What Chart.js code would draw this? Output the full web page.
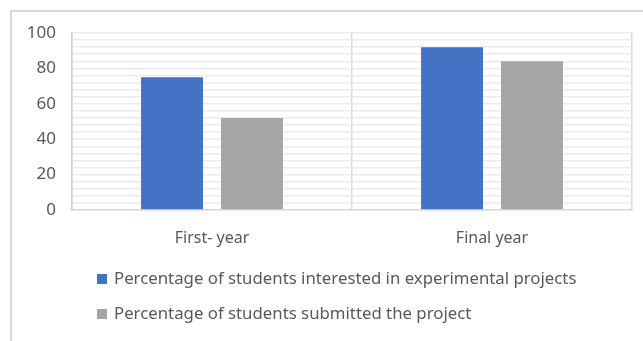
<!DOCTYPE html>
<html>
<head>
<meta charset="utf-8">
<script src="https://cdn.jsdelivr.net/npm/chart.js@4.4.1/dist/chart.umd.min.js"></script>
<style>
  html, body { margin: 0; padding: 0; background: #fff; }
  body { width: 643px; height: 341px; overflow: hidden; position: relative; }
  .frame { position: absolute; left: 10px; top: 10px; width: 660px; height: 360px;
           border: 2px solid #d9d9d9; box-sizing: border-box; }
  #wrap { position: absolute; left: 0; top: 0; width: 643px; height: 341px; }
</style>
</head>
<body>
<div class="frame"></div>
<div id="wrap"><canvas id="chart"></canvas></div>
<script>
const categories = ['First- year', 'Final year'];
const interested = [75, 92];
const submitted = [52, 84];
const seriesLabels = [
    'Percentage of students interested in experimental projects',
    'Percentage of students submitted the project'
];
const seriesColors = ['#4472c4', '#a5a5a5'];

const FONT = '"Noto Sans", "Liberation Sans", sans-serif';
const TEXT = '#595959';

// legend drawn as a left-aligned vertical list under the axis
const listLegend = {
    id: 'listLegend',
    afterDraw(chart) {
        const ctx = chart.ctx;
        ctx.save();
        ctx.font = '16.8px ' + FONT;
        ctx.textBaseline = 'middle';
        chart.data.datasets.forEach((ds, i) => {
            const y = 279 + i * 35;
            ctx.fillStyle = ds.backgroundColor;
            ctx.fillRect(97, y - 5, 10, 10);
            ctx.fillStyle = TEXT;
            ctx.fillText(ds.label, 114, y);
        });
        ctx.restore();
    }
};

new Chart(document.getElementById('chart'), {
    type: 'bar',
    data: {
        labels: categories,
        datasets: [
            { label: seriesLabels[0], data: interested, backgroundColor: seriesColors[0] },
            { label: seriesLabels[1], data: submitted, backgroundColor: seriesColors[1] }
        ]
    },
    options: {
        responsive: true,
        maintainAspectRatio: false,
        animation: false,
        layout: { padding: { left: 0, right: 11, top: 33, bottom: 0 } },
        datasets: { bar: { categoryPercentage: 0.571, barPercentage: 0.775 } },
        plugins: { legend: { display: false }, tooltip: { enabled: false } },
        scales: {
            x: {
                afterFit(scale) { scale.height = 131; },
                grid: { color: '#d9d9d9', lineWidth: 1.5, drawTicks: false, offset: true },
                border: { color: '#d9d9d9', width: 1.5 },
                ticks: { color: TEXT, padding: 19, font: { family: FONT, size: 16 } }
            },
            y: {
                min: 0, max: 100,
                afterFit(scale) { scale.width = 72; },
                grid: { color: '#ebebeb', lineWidth: 1.5, drawTicks: false },
                border: { color: '#d0d0d0', width: 1.5 },
                ticks: {
                    stepSize: 4,
                    autoSkip: false,
                    padding: 16,
                    color: TEXT,
                    font: { family: FONT, size: 17 },
                    callback: v => (v % 20 === 0 ? v : '')
                }
            }
        }
    },
    plugins: [listLegend]
});
</script>
</body>
</html>
